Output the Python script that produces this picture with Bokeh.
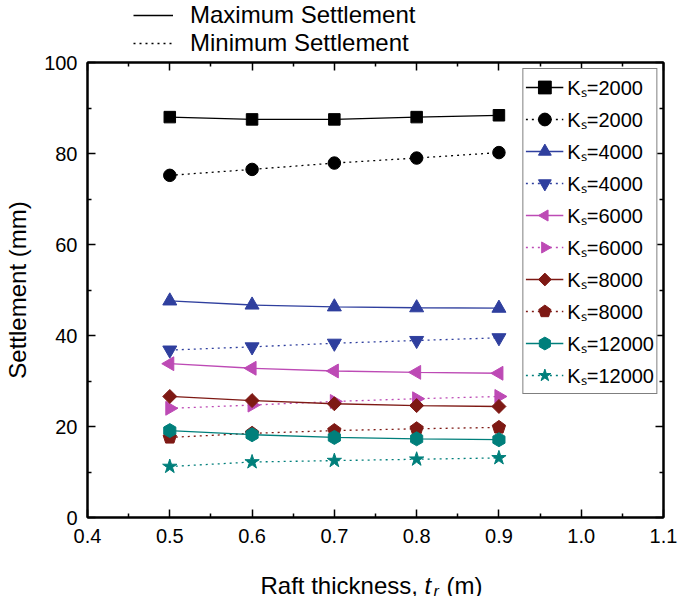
import numpy as np
from bokeh.plotting import figure
from bokeh.layouts import column
from bokeh.models import (FixedTicker, LinearAxis, Legend, LegendItem, Label,
                          Range1d, PrintfTickFormatter, ColumnDataSource, Ngon)
from bokeh.embed import file_html
from bokeh.resources import INLINE

# Raft thickness (m) and settlement (mm) for each subgrade modulus Ks
thickness = [0.5, 0.6, 0.7, 0.8, 0.9]
max_2000 = [88.0, 87.5, 87.5, 88.0, 88.4]
min_2000 = [75.2, 76.5, 77.9, 79.0, 80.2]
max_4000 = [47.6, 46.7, 46.3, 46.1, 46.0]
min_4000 = [36.8, 37.5, 38.3, 38.9, 39.5]
max_6000 = [33.8, 32.8, 32.2, 31.9, 31.7]
min_6000 = [24.0, 24.7, 25.5, 26.1, 26.6]
max_8000 = [26.6, 25.7, 25.0, 24.6, 24.4]
min_8000 = [17.6, 18.5, 19.1, 19.5, 19.8]
max_12000 = [19.1, 18.2, 17.6, 17.3, 17.1]
min_12000 = [11.2, 12.2, 12.5, 12.8, 13.1]

x_ticks = [0.4, 0.5, 0.6, 0.7, 0.8, 0.9, 1.0, 1.1]
x_minor = [0.45, 0.55, 0.65, 0.75, 0.85, 0.95, 1.05]
y_ticks = [0, 20, 40, 60, 80, 100]
y_minor = [10, 30, 50, 70, 90]

FONT = "Liberation Sans"
BLUE = "#2F3F9E"
PINK = "#BD4AB5"
RED = "#7E1914"
TEAL = "#007F7B"
DOT = "2 4"

W = 684
LEFT, RIGHT = 87, 21           # side borders shared by all three strips
KEY_H, MAIN_H, TITLE_H = 53, 504, 39
MAIN_TOP = 9


def strip(height):
    """Plain text/key strip whose x data units equal page pixels."""
    f = figure(width=W, height=height, x_range=Range1d(LEFT, W - RIGHT),
               y_range=Range1d(0, height), x_axis_type=None, y_axis_type=None,
               output_backend="svg", toolbar_location=None,
               min_border_left=LEFT, min_border_right=RIGHT,
               min_border_top=0, min_border_bottom=0)
    f.grid.visible = False
    f.outline_line_color = None
    f.background_fill_color = "white"
    f.border_fill_color = "white"
    return f


p = figure(width=W, height=MAIN_H, x_range=Range1d(0.4, 1.1), y_range=Range1d(0, 100),
           output_backend="svg", toolbar_location=None,
           min_border_left=LEFT, min_border_right=RIGHT,
           min_border_top=MAIN_TOP, min_border_bottom=40)
p.xgrid.visible = False
p.ygrid.visible = False
p.outline_line_color = "black"
p.outline_line_width = 2
p.background_fill_color = "white"
p.border_fill_color = "white"


def style_axis(ax, labels=True):
    ax.axis_line_color = "black"
    ax.axis_line_width = 2
    ax.major_tick_in = 8
    ax.major_tick_out = 0
    ax.minor_tick_in = 4
    ax.minor_tick_out = 0
    ax.major_tick_line_width = 1.5
    ax.minor_tick_line_width = 1.5
    ax.major_tick_line_color = "black"
    ax.minor_tick_line_color = "black"
    ax.major_label_text_font = FONT
    ax.major_label_text_color = "black"
    if labels:
        ax.major_label_text_font_size = "20px"
    else:
        ax.major_label_text_font_size = "0px"
        ax.major_label_standoff = 0


p.xaxis.ticker = FixedTicker(ticks=x_ticks, minor_ticks=x_minor)
p.xaxis.formatter = PrintfTickFormatter(format="%.1f")
style_axis(p.xaxis[0])
p.xaxis.major_label_standoff = 11

p.yaxis.ticker = FixedTicker(ticks=y_ticks, minor_ticks=y_minor)
style_axis(p.yaxis[0])
p.yaxis.major_label_standoff = 10
p.yaxis.axis_label = "Settlement (mm)"
p.yaxis.axis_label_text_font = FONT
p.yaxis.axis_label_text_font_size = "24px"
p.yaxis.axis_label_text_font_style = "normal"
p.yaxis.axis_label_text_color = "black"
p.yaxis.axis_label_standoff = 10

top = LinearAxis(ticker=FixedTicker(ticks=x_ticks, minor_ticks=x_minor))
style_axis(top, labels=False)
p.add_layout(top, "above")
right = LinearAxis(ticker=FixedTicker(ticks=y_ticks, minor_ticks=y_minor))
style_axis(right, labels=False)
p.add_layout(right, "right")

items = []


def add_series(vals, color, dash, label, marker=None, size=12, sides=None, angle=0.0):
    src = ColumnDataSource(dict(x=thickness, y=vals))
    ln = p.line("x", "y", source=src, line_color=color, line_width=1.3, line_dash=dash)
    if sides is not None:
        mk = p.add_glyph(src, Ngon(x="x", y="y", radius=size, radius_units="screen", n=sides,
                                   angle=angle, fill_color=color, line_color=color))
    else:
        mk = p.scatter("x", "y", source=src, marker=marker, size=size,
                       fill_color=color, line_color=color)
    items.append(LegendItem(label=label, renderers=[ln, mk]))


add_series(max_2000, "black", "solid", "K\u209b=2000", "square", 11.5)
add_series(min_2000, "black", DOT, "K\u209b=2000", "circle", 12.5)
add_series(max_4000, BLUE, "solid", "K\u209b=4000", "triangle", 14)
add_series(min_4000, BLUE, DOT, "K\u209b=4000", "inverted_triangle", 14)
add_series(max_6000, PINK, "solid", "K\u209b=6000", size=8, sides=3, angle=np.pi / 2)
add_series(min_6000, PINK, DOT, "K\u209b=6000", size=8, sides=3, angle=-np.pi / 2)
add_series(max_8000, RED, "solid", "K\u209b=8000", size=7, sides=4, angle=0.0)
add_series(min_8000, RED, DOT, "K\u209b=8000", size=7, sides=5, angle=0.0)
add_series(max_12000, TEAL, "solid", "K\u209b=12000", size=7, sides=6, angle=0.0)
add_series(min_12000, TEAL, DOT, "K\u209b=12000", "star", 15)

legend = Legend(items=items, location="top_right", margin=6, padding=2, spacing=0,
                glyph_width=38, glyph_height=32, label_height=32, label_standoff=4,
                label_text_font=FONT, label_text_font_size="20px", label_text_color="black",
                border_line_color="black", border_line_width=1.5,
                background_fill_color="white", background_fill_alpha=1.0)
p.add_layout(legend, "center")

# line-style key above the chart (the key lines carry no data points)
k = strip(KEY_H)
k_max = k.line(x=[np.nan], y=[np.nan], line_color="black", line_width=1.3)
k_min = k.line(x=[np.nan], y=[np.nan], line_color="black", line_width=1.3, line_dash=DOT)
key = Legend(items=[LegendItem(label="Maximum Settlement", renderers=[k_max]),
                    LegendItem(label="Minimum Settlement", renderers=[k_min])],
             location=(46, KEY_H - 57), padding=0, margin=0, spacing=0,
             glyph_width=40, glyph_height=28, label_height=28, label_standoff=17,
             label_text_font=FONT, label_text_font_size="24px", label_text_color="black",
             border_line_color=None, background_fill_alpha=0)
k.add_layout(key, "center")

# x-axis title with italic t and subscript r
t = strip(TITLE_H)
for txt, xs, ys, size, style in [("Raft thickness,", 260, 11, "24px", "normal"),
                                 ("t", 424, 11, "24px", "italic"),
                                 ("r", 433, 5, "16px", "italic"),
                                 ("(m)", 446, 11, "24px", "normal")]:
    t.add_layout(Label(x=xs, y=ys, text=txt, text_font=FONT, text_font_size=size,
                       text_font_style=style, text_color="black",
                       text_baseline="alphabetic", text_align="left"))

open("out.html", "w").write(file_html(column(k, p, t, spacing=0), INLINE))
